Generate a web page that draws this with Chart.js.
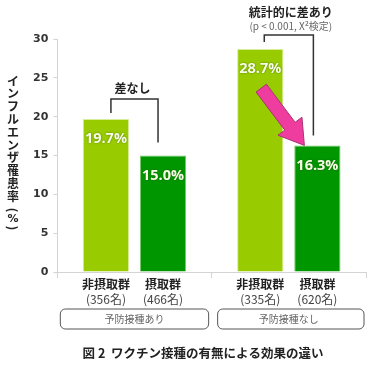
<!DOCTYPE html>
<html>
<head>
<meta charset="utf-8">
<script src="https://cdn.jsdelivr.net/npm/chart.js@4.4.1/dist/chart.umd.min.js"></script>
<style>
  html, body { margin: 0; padding: 0; background: #fff; }
  #wrap { width: 380px; height: 372px; }
</style>
</head>
<body>
<div id="wrap"><canvas id="chart"></canvas></div>
<script>
// data
var categories = ['予防接種あり', '予防接種なし'];
var groupNames = ['非摂取群', '摂取群'];
var groupCounts = [[356, 466], [335, 620]];
var notTaken = [19.7, 28.7];
var taken = [15.0, 16.3];
var yTicks = [0, 5, 10, 15, 20, 25, 30];
var yTitle = ['イ', 'ン', 'フ', 'ル', 'エ', 'ン', 'ザ', '罹', '患', '率'];
var figTitle = '図 2  ワクチン接種の有無による効果の違い';
var jp = '"Noto Sans CJK JP", "Noto Sans", sans-serif';

function drawBracket(ctx, x1, y1, x2, y2, top) {
    ctx.beginPath();
    ctx.moveTo(x1, y1);
    ctx.lineTo(x1, top);
    ctx.lineTo(x2, top);
    ctx.lineTo(x2, y2);
    ctx.stroke();
}

var extras = {
    id: 'extras',
    afterDatasetsDraw: function(chart) {
        var ctx = chart.ctx;
        var m0 = chart.getDatasetMeta(0).data;
        var m1 = chart.getDatasetMeta(1).data;
        var xs = chart.scales.x;
        var area = chart.chartArea;
        ctx.save();

        // values inside the bars
        ctx.font = 'bold 14.5px "Open Sans", sans-serif';
        ctx.textAlign = 'center';
        ctx.textBaseline = 'middle';
        ctx.shadowColor = 'rgba(40,60,0,0.6)';
        ctx.shadowBlur = 2;
        ctx.fillStyle = '#f6ffe6';
        [[m0, notTaken], [m1, taken]].forEach(function(p) {
            p[0].forEach(function(bar, i) {
                ctx.fillText(p[1][i].toFixed(1) + '%', bar.x, bar.y + 20);
            });
        });
        ctx.shadowBlur = 0;
        ctx.shadowColor = 'transparent';

        // brackets
        ctx.strokeStyle = '#333';
        ctx.lineWidth = 1.5;
        drawBracket(ctx, m0[0].x + 5, m0[0].y - 6, m1[0].x - 5, m1[0].y - 13, m0[0].y - 20);
        drawBracket(ctx, m0[1].x + 4, m0[1].y - 7, m1[1].x - 4, m1[1].y - 10, m0[1].y - 14);

        ctx.fillStyle = '#222';
        ctx.font = 'bold 12px ' + jp;
        ctx.fillText('差なし', (m0[0].x + m1[0].x) / 2 - 2, m0[0].y - 31);
        ctx.fillText('統計的に差あり', (m0[1].x + m1[1].x) / 2 + 2, 12);
        ctx.fillStyle = '#666';
        ctx.font = '10px ' + jp;
        ctx.fillText('(p < 0.001, X²検定)', (m0[1].x + m1[1].x) / 2 + 2, 26);

        // pink arrow
        var tx = m0[1].x + 1, ty = m0[1].y + 39;
        var hx = m1[1].x - 13, hy = m1[1].y;
        var dx = hx - tx, dy = hy - ty, len = Math.sqrt(dx * dx + dy * dy);
        var ux = dx / len, uy = dy / len, nx = -uy, ny = ux;
        var w = 6.5, hw = 15, hl = 24;
        var bx = hx - ux * hl, by = hy - uy * hl;
        ctx.beginPath();
        ctx.moveTo(tx + nx * w, ty + ny * w);
        ctx.lineTo(bx + nx * w, by + ny * w);
        ctx.lineTo(bx + nx * hw, by + ny * hw);
        ctx.lineTo(hx, hy);
        ctx.lineTo(bx - nx * hw, by - ny * hw);
        ctx.lineTo(bx - nx * w, by - ny * w);
        ctx.lineTo(tx - nx * w, ty - ny * w);
        ctx.closePath();
        ctx.fillStyle = '#ee3d9f';
        ctx.fill();
        ctx.strokeStyle = '#a83372';
        ctx.lineWidth = 1;
        ctx.stroke();

        // group labels under bars
        ctx.textBaseline = 'middle';
        [m0, m1].forEach(function(meta, d) {
            meta.forEach(function(bar, i) {
                ctx.fillStyle = '#222';
                ctx.font = 'bold 12px ' + jp;
                ctx.fillText(groupNames[d], bar.x, area.bottom + 12);
                ctx.fillStyle = '#444';
                ctx.font = '12px ' + jp;
                ctx.fillText('(' + groupCounts[i][d] + '名)', bar.x, area.bottom + 27);
            });
        });

        // category boxes
        var half = (xs.getPixelForValue(1) - xs.getPixelForValue(0)) / 2;
        categories.forEach(function(c, i) {
            var cx = xs.getPixelForValue(i);
            var x1 = cx - half + 3 + i * 3, x2 = cx + half - 3 + i * 1;
            ctx.beginPath();
            ctx.roundRect(x1, area.bottom + 37, x2 - x1, 20, 5);
            ctx.strokeStyle = '#555';
            ctx.lineWidth = 1;
            ctx.stroke();
            ctx.fillStyle = '#666';
            ctx.font = '10px ' + jp;
            ctx.fillText(c, cx, area.bottom + 47);
        });

        // figure caption
        ctx.fillStyle = '#222';
        ctx.font = 'bold 12.5px ' + jp;
        ctx.fillText(figTitle, 203, 353);

        // vertical y axis title
        ctx.font = 'bold 12px ' + jp;
        yTitle.forEach(function(ch, i) {
            ctx.fillText(ch, 13, 81 + i * 12.8);
        });
        ctx.save();
        ctx.translate(13, 210);
        ctx.rotate(Math.PI / 2);
        ctx.fillText('(', 0, 0);
        ctx.restore();
        ctx.font = 'bold 11px "DejaVu Sans", sans-serif';
        ctx.fillText('%', 13, 219);
        ctx.save();
        ctx.translate(13, 228);
        ctx.rotate(Math.PI / 2);
        ctx.font = 'bold 12px ' + jp;
        ctx.fillText(')', 0, 0);
        ctx.restore();

        ctx.restore();
    }
};

var ctx = document.getElementById('chart').getContext('2d');
var chart = new Chart(ctx, {
    type: 'bar',
    data: {
        labels: categories,
        datasets: [{
            label: groupNames[0],
            data: notTaken,
            backgroundColor: 'rgb(153, 204, 0)',
            borderColor: 'rgb(214, 238, 150)',
            borderWidth: 1
        }, {
            label: groupNames[1],
            data: taken,
            backgroundColor: 'rgb(0, 150, 0)',
            borderColor: 'rgb(120, 200, 110)',
            borderWidth: 1
        }]
    },
    options: {
        responsive: true,
        maintainAspectRatio: false,
        animation: false,
        layout: { padding: { left: 28, right: 14, top: 39, bottom: 94 } },
        categoryPercentage: 0.74,
        barPercentage: 0.81,
        plugins: {
            legend: { display: false },
            tooltip: { enabled: false }
        },
        scales: {
            x: {
                ticks: { display: false },
                grid: { drawOnChartArea: false, tickLength: 6, color: '#d4d4d4' },
                border: { color: '#d4d4d4' }
            },
            y: {
                min: 0,
                max: 30,
                afterBuildTicks: function(axis) {
                    axis.ticks = yTicks.map(function(v) { return { value: v }; });
                },
                ticks: {
                    color: '#333',
                    padding: 5,
                    font: { family: '"DejaVu Sans", sans-serif', size: 11, weight: 'bold' }
                },
                grid: { drawOnChartArea: false, tickLength: 4, color: '#d4d4d4' },
                border: { color: '#d4d4d4' }
            }
        }
    },
    plugins: [extras]
});
</script>
</body>
</html>
